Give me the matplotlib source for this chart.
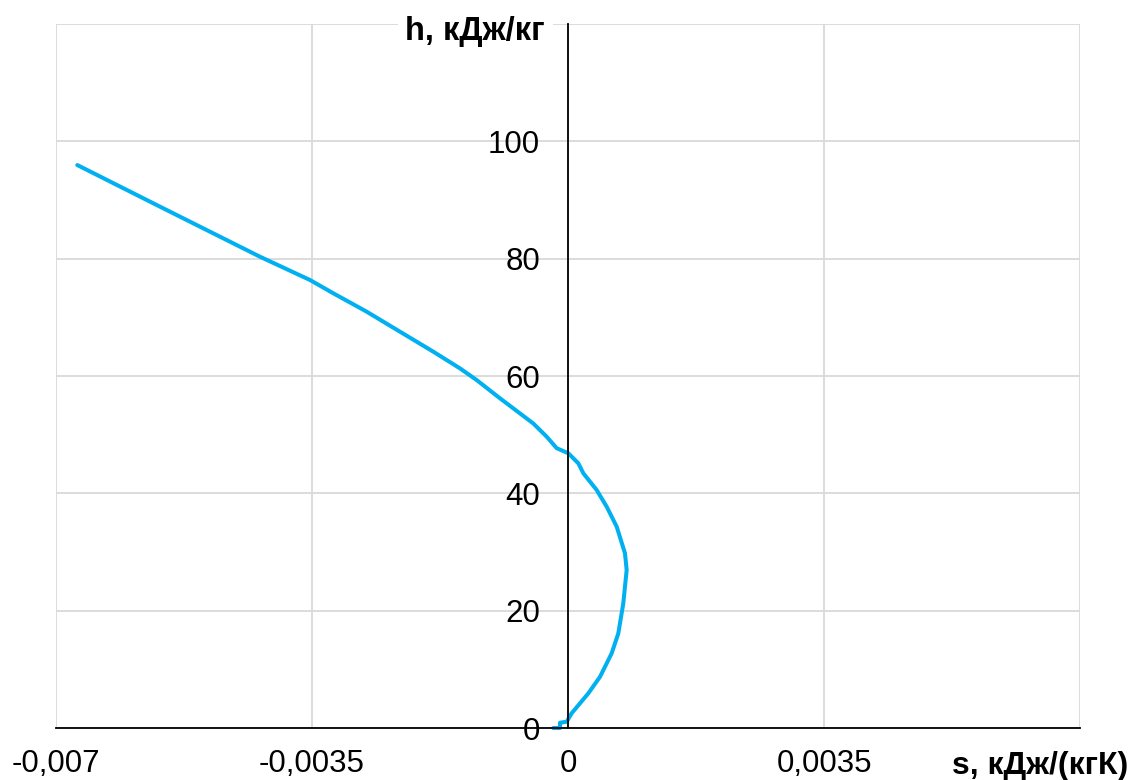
import matplotlib
matplotlib.use("Agg")
import matplotlib.pyplot as plt
from matplotlib.ticker import FuncFormatter, FixedLocator

s_vals = [-0.006709, -0.005578, -0.004211, -0.003527, -0.003209,
          -0.002752, -0.002297, -0.001841, -0.001477, -0.001248, -0.000930,
          -0.000474, -0.000291, -0.000155, 0.000005, 0.000141, 0.000210,
          0.000392, 0.000529, 0.000666, 0.000779, 0.000802, 0.000756,
          0.000688, 0.000597, 0.000438, 0.000278, 0.000050, -0.000018,
          -0.000109, -0.000109, -0.000201]
h_vals = [95.96, 88.86, 80.33, 76.36, 74.1,
          70.96, 67.55, 64.14, 61.3, 59.3, 56.2,
          51.9, 49.65, 47.7, 46.82, 45.12, 43.41,
          40.57, 37.72, 34.31, 29.78, 26.93, 21.25,
          16.14, 12.73, 8.74, 5.91, 2.51, 1.07,
          0.9, 0.0, 0.0]

x_ticks = [-0.007, -0.0035, 0, 0.0035, 0.007]
y_ticks = [0, 20, 40, 60, 80, 100, 120]
x_title = "s, кДж/(кгК)"
y_title = "h, кДж/кг"

plt.rcParams['font.family'] = ['Liberation Sans', 'DejaVu Sans']

W, H = 1131, 780
fig = plt.figure(figsize=(W / 100, H / 100), dpi=100)
ax = fig.add_axes([56 / W, 52 / H, 1024 / W, 704 / H])

ax.plot(s_vals, h_vals, color='#00B0F0', lw=2.9, solid_capstyle='round',
        solid_joinstyle='round', zorder=5, clip_on=False)

ax.set_xlim(-0.007, 0.007)
ax.set_ylim(0, 120)
ax.xaxis.set_major_locator(FixedLocator(x_ticks))
ax.yaxis.set_major_locator(FixedLocator(y_ticks))


def fmt_x(v, pos):
    if abs(v - 0.007) < 1e-9:
        return ""
    if v == 0:
        return "0"
    return ("%g" % v).replace(".", ",")


def fmt_y(v, pos):
    if v >= 120:
        return ""
    return "%d" % v


ax.xaxis.set_major_formatter(FuncFormatter(fmt_x))
ax.yaxis.set_major_formatter(FuncFormatter(fmt_y))

ax.grid(True, color='#d9d9d9', lw=1.3, zorder=0)
for gl in ax.get_xgridlines() + ax.get_ygridlines():
    gl.set_clip_on(False)

for side in ['top', 'right']:
    ax.spines[side].set_visible(False)
for side in ['left', 'bottom']:
    ax.spines[side].set_position(('data', 0))
    ax.spines[side].set_color('black')
    ax.spines[side].set_linewidth(1.3)
    ax.spines[side].set_zorder(7)

ax.tick_params(axis='both', length=0, labelsize=22.5, colors='black')
ax.tick_params(axis='y', pad=20)
ax.tick_params(axis='x', pad=15)

# y-axis title at the top, right-aligned left of the vertical axis
ax.annotate(y_title, xy=(0, 120), xycoords='data',
            xytext=(-23, -16), textcoords='offset pixels',
            ha='right', va='baseline', fontsize=23.5, fontweight='bold',
            bbox=dict(facecolor='white', edgecolor='none', pad=5.5), zorder=6,
            annotation_clip=False)

fig.text(1128 / W, (H - 766) / H, x_title, ha='right', va='center',
         fontsize=23, fontweight='bold')

fig.savefig("out.png", dpi=100, facecolor='white')
